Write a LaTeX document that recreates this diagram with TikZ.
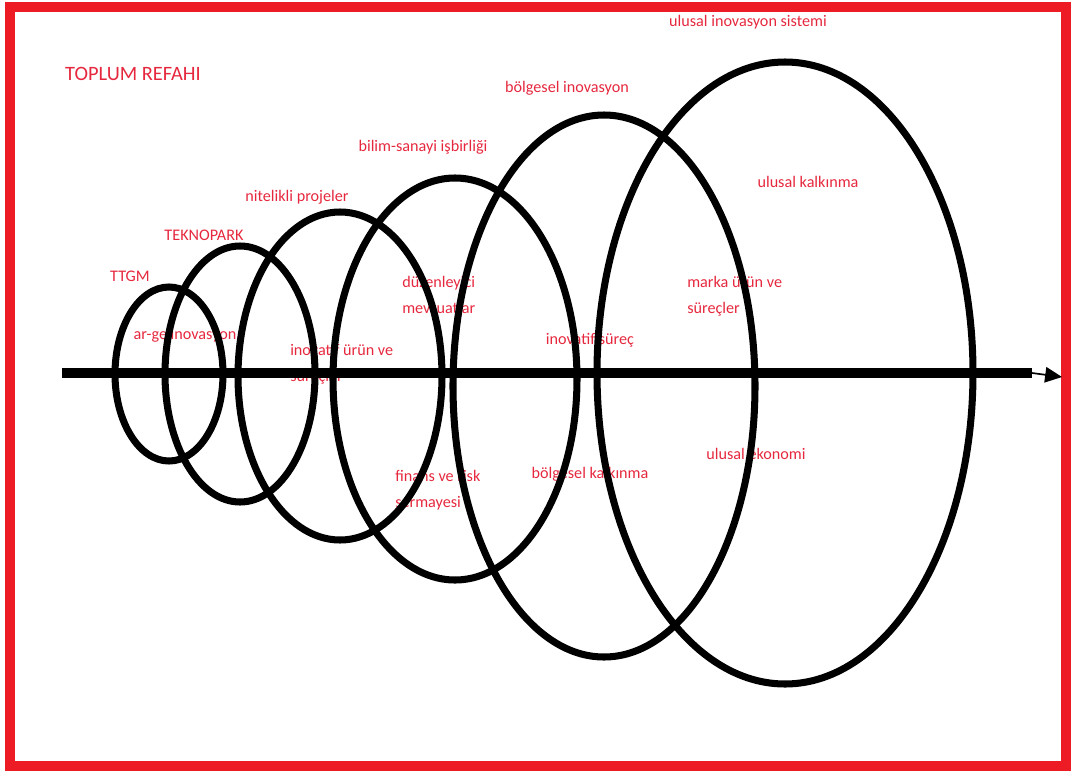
\documentclass[tikz,border=0pt]{standalone}
\usepackage{fontspec}
\setmainfont{Carlito}
\usetikzlibrary{arrows.meta}

\definecolor{paintred}{RGB}{237,28,36}
\definecolor{labelred}{RGB}{230,40,62}

\tikzset{
  lbl/.style={text=labelred, inner sep=0pt, font=\fontsize{11.5}{18.5}\selectfont},
  ring/.style={line width=5pt},
}

\begin{document}
\begin{tikzpicture}[x=0.025cm, y=-0.025cm]
  % Page size and red frame
  \useasboundingbox (0,0) rectangle (1074,771);
  \draw[paintred, line width=6.5pt] (10,7) rectangle (1066,766);

  % Title
  \node[lbl, font=\fontsize{14.5}{16}\selectfont] (title) at (133,74) {TOPLUM REFAHI};

  % One-line labels
  \foreach \x/\y/\name/\txt in {130/276/ttgm/TTGM, 204/235/teknopark/TEKNOPARK,
      297/197/projeler/nitelikli projeler, 423/147/isbirligi/bilim-sanayi işbirliği,
      567/88/bolgeselinov/bölgesel inovasyon, 748/22/ulusalinov/ulusal inovasyon sistemi,
      185/335/arge/ar-ge inovasyon, 590/340/surec/inovatif süreç,
      590/474/bolgeselkalk/bölgesel kalkınma, 808/182/ulusalkalk/ulusal kalkınma,
      756/454/ekonomi/ulusal ekonomi} {
    \node[lbl] (\name) at (\x,\y) {\txt};
  }

  % Two-line labels
  \node[lbl, align=left, anchor=west] (urun) at (290,364) {inovatif ürün ve\\süreçler};
  \node[lbl, align=left, anchor=west] (mevzuat) at (402,295) {düzenleyici\\mevzuatlar};
  \node[lbl, align=left, anchor=west] (finans) at (395,490) {finans ve risk\\sermayesi};
  \node[lbl, align=left, anchor=west] (marka) at (687,296) {marka ürün ve\\süreçler};

  % Rings
  \foreach \x/\y/\rx/\ry in {169/374/54/87, 240/374/75/128, 340/376/102/164,
      455/379/122/201, 604/386/151/271, 785/373/188/311} {
    \draw[ring] (\x,\y) ellipse [x radius=\rx, y radius=\ry];
  }

  % Axis
  \coordinate (axisstart) at (62,373);
  \coordinate (axisbar) at (1032,373);
  \coordinate (axisend) at (1062,377);
  \draw[line width=7pt] (axisstart) -- (axisbar);
  \draw[line width=1.2pt, -{Triangle[length=12pt, width=11pt]}] (axisbar) -- (axisend);
\end{tikzpicture}
\end{document}
